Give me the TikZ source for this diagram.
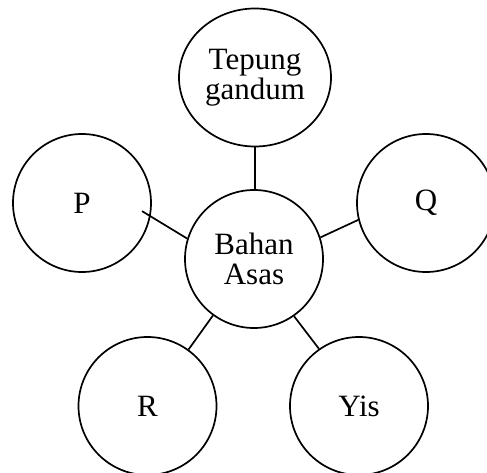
\documentclass[tikz,border=0pt]{standalone}
\usepackage{fontspec}
\setmainfont{Liberation Serif}
\usetikzlibrary{shapes.geometric}
\begin{document}
\begin{tikzpicture}[x=1pt,y=1pt,
  bubble/.style={circle,draw=black,line width=1.7pt,minimum size=138pt,inner sep=0pt,
    align=center,font=\fontsize{31}{30}\selectfont},
  oval/.style={bubble,ellipse,minimum width=152pt,minimum height=138pt},
  link/.style={draw=black,line width=1.7pt}]
  \useasboundingbox[fill=white] (0,0) rectangle (487,-473);

  % ingredient bubbles around the centre
  \node[bubble] (C) at (254,-259) {Bahan\\Asas};
  \node[oval]   (T) at (255,-77.5) {Tepung\\gandum};
  \node[bubble] (P) at (82,-203) {P};
  \node[bubble] (Q) at (426,-203) {Q};
  \node[bubble] (R) at (147.5,-406) {R};
  \node[bubble] (Y) at (359,-406) {Yis};

  % spokes
  \draw[link] (T.south) -- (T.south |- C.north);
  \draw[link,shorten >=-10pt] (C.163) -- (P.-11);
  \draw[link] (C.18) -- (Q.194);
  \draw[link] (C.234) -- (R.54);
  \draw[link] (C.305) -- (Y.125);
\end{tikzpicture}
\end{document}
